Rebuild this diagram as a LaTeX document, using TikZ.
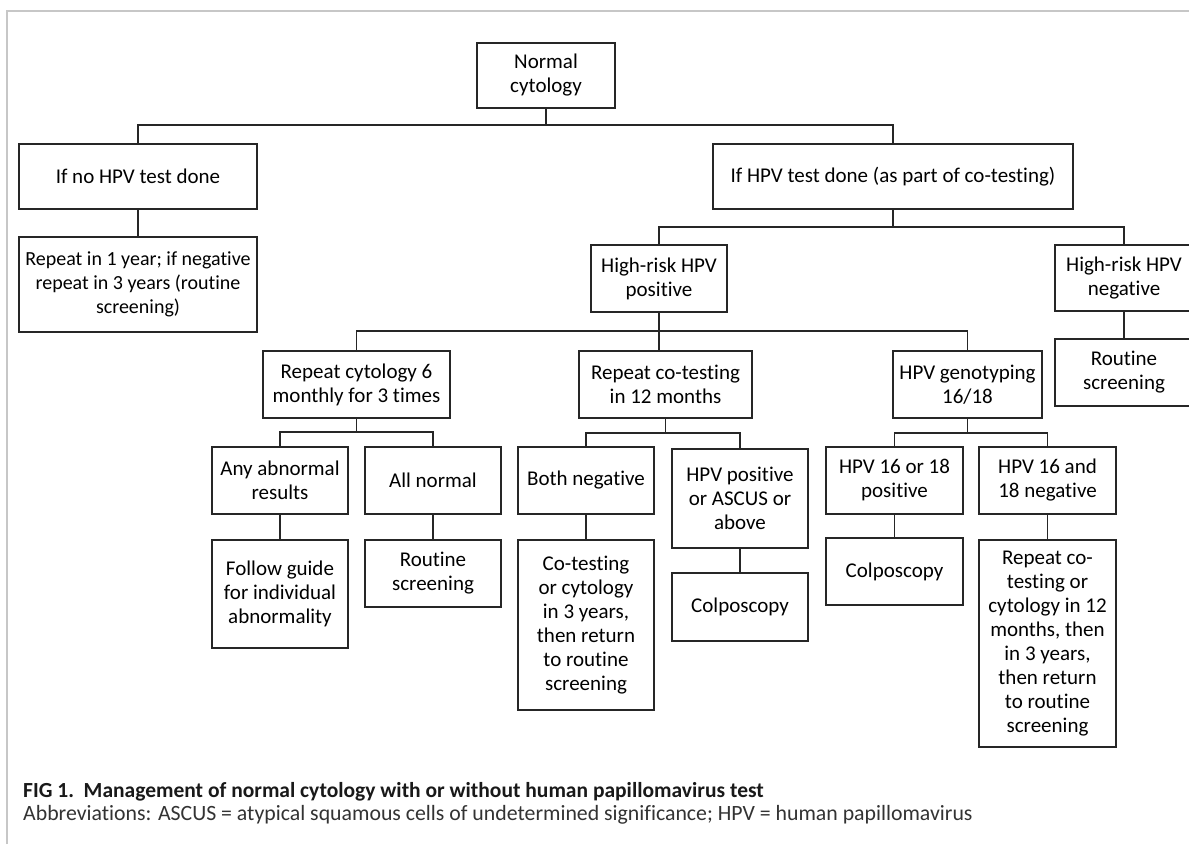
\documentclass[tikz,border=0pt]{standalone}
\usepackage{fontspec}
\setmainfont{Carlito}[Ligatures=NoCommon]
\begin{document}
\begin{tikzpicture}[x=1pt,y=-1pt,
  box/.style={draw=black!85, line width=1.1pt, align=center, inner sep=0pt,
    font=\fontsize{21}{24}\selectfont, text=black},
  link/.style={draw=black!85, line width=1.1pt},
  frame/.style={draw=black!22, line width=1.5pt}]
\clip (0,0) rectangle (1189,844);
\fill[white] (0,0) rectangle (1189,844);
\draw[frame] (7,844) -- (7,11) -- (1189,11);

% level 0
\node[box, minimum width=138pt, minimum height=65pt] (normal) at (546,75.5) {Normal\\cytology};
% level 1
\node[box, minimum width=238pt, minimum height=65pt] (nohpv) at (138,176.5) {If no HPV test done};
\node[box, minimum width=360pt, minimum height=65pt] (hpvdone) at (893,176.5) {If HPV test done (as part of co-testing)};
% level 2
\node[box, minimum width=238pt, minimum height=95pt, font=\fontsize{20}{24}\selectfont] (rep1y) at (138,284.5) {Repeat in 1 year; if negative\\repeat in 3 years (routine\\screening)};
\node[box, minimum width=136pt, minimum height=67pt] (hrpos) at (659,278.5) {High-risk HPV\\positive};
\node[box, minimum width=138pt, minimum height=66pt] (hrneg) at (1124,278) {High-risk HPV\\negative};
\node[box, minimum width=138pt, minimum height=67pt] (routineR) at (1124,372.5) {Routine\\screening};
% level 3
\node[box, minimum width=187pt, minimum height=67pt] (repcyt) at (356.5,384.5) {Repeat cytology 6\\monthly for 3 times};
\node[box, minimum width=173pt, minimum height=67pt] (repco) at (665.5,384.5) {Repeat co-testing\\in 12 months};
\node[box, minimum width=149pt, minimum height=67pt] (geno) at (967.5,384.5) {HPV genotyping\\16/18};
% level 4
\node[box, minimum width=136pt, minimum height=67pt] (anyab) at (280,480.5) {Any abnormal\\results};
\node[box, minimum width=136pt, minimum height=67pt] (allnorm) at (433,480.5) {All normal};
\node[box, minimum width=136pt, minimum height=67pt] (bothneg) at (586,480.5) {Both negative};
\node[box, minimum width=136pt, minimum height=99pt] (hpvpos) at (740,498.5) {HPV positive\\or ASCUS or\\above};
\node[box, minimum width=137pt, minimum height=67pt] (pos1618) at (894.5,480.5) {HPV 16 or 18\\positive};
\node[box, minimum width=137pt, minimum height=67pt] (neg1618) at (1047.5,480.5) {HPV 16 and\\18 negative};
% level 5
\node[box, minimum width=136pt, minimum height=108pt] (follow) at (280,594) {Follow guide\\for individual\\abnormality};
\node[box, minimum width=136pt, minimum height=67pt] (routineL) at (433,573.5) {Routine\\screening};
\node[box, minimum width=136pt, minimum height=170pt] (cotest) at (586,625) {Co-testing\\or cytology\\in 3 years,\\then return\\to routine\\screening};
\node[box, minimum width=136pt, minimum height=68pt] (colpo1) at (740,607) {Colposcopy};
\node[box, minimum width=137pt, minimum height=67pt] (colpo2) at (894.5,571.5) {Colposcopy};
\node[box, minimum width=137pt, minimum height=207pt] (repco2) at (1047.5,643.5) {Repeat co-\\testing or\\cytology in 12\\months, then\\in 3 years,\\then return\\to routine\\screening};

% connectors
\draw[link] (normal.south) -- (normal.south |- 0,125) -| (nohpv.north);
\draw[link] (normal.south |- 0,125) -| (hpvdone.north);
\draw[link] (nohpv) -- (rep1y);
\draw[link] (hpvdone.south) -- (hpvdone.south |- 0,227) -| (hrpos.north);
\draw[link] (hpvdone.south |- 0,227) -| (hrneg.north);
\draw[link] (hrneg) -- (routineR);
\draw[link] (hrpos.south) -- (hrpos.south |- repco.north);
\draw[link] (repcyt.north) |- (hrpos.south |- 0,331) -| (geno.north);
\draw[link] (repcyt.south) -- (repcyt.south |- 0,432) -| (anyab.north);
\draw[link] (repcyt.south |- 0,432) -| (allnorm.north);
\draw[link] (repco.south) -- (repco.south |- 0,433) -| (bothneg.north);
\draw[link] (repco.south |- 0,433) -| (hpvpos.north);
\draw[link] (geno.south) -- (geno.south |- 0,433) -| (pos1618.north);
\draw[link] (geno.south |- 0,433) -| (neg1618.north);
\draw[link] (anyab) -- (follow);
\draw[link] (allnorm) -- (routineL);
\draw[link] (bothneg) -- (cotest);
\draw[link] (hpvpos) -- (colpo1);
\draw[link] (pos1618) -- (colpo2);
\draw[link] (neg1618) -- (repco2);

% caption
\node[anchor=base west, inner sep=0pt, font=\bfseries\fontsize{21.5}{22}\selectfont, text=black!90] (cap1) at (23,797)
  {FIG 1.\ \ Management of normal cytology with or without human papillomavirus test};
\node[anchor=base west, inner sep=0pt, font=\fontsize{21.8}{22}\selectfont, text=black!80] (cap2) at (23,820)
  {Abbreviations: ASCUS = atypical squamous cells of undetermined significance; HPV = human papillomavirus};
\end{tikzpicture}
\end{document}
